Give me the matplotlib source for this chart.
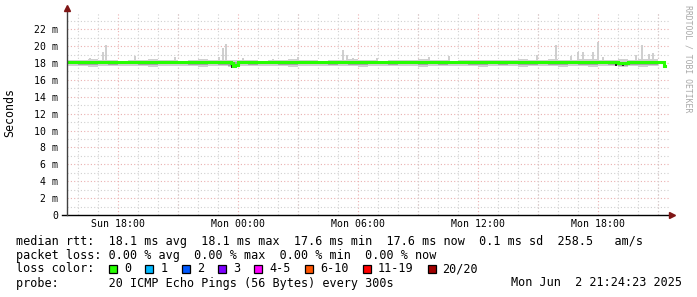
#!/usr/bin/env python3
# coding=utf-8
"""SmokePing style latency graph (30 hours, median rtt + smoke)."""

import matplotlib

matplotlib.use("Agg")
import matplotlib.pyplot as plt
from matplotlib.patches import Rectangle

plt.rcParams["font.family"] = ["DejaVu Sans Mono"]

# time axis: hours since Sun 00:00
median_t = [
    15.5, 16.0, 16.5, 17.0, 17.5, 18.0, 18.5, 19.0, 19.5, 20.0, 20.5, 21.0,
    21.5, 22.0, 22.5, 23.0, 23.5, 23.65, 23.75, 23.85,
    24.0, 24.5, 25.0, 25.5, 26.0, 26.5, 27.0, 27.5, 28.0, 28.5,
    29.0, 29.5, 30.0, 30.5, 31.0, 31.5, 32.0, 32.5, 33.0, 33.5,
    34.0, 34.5, 35.0, 35.5, 36.0, 36.5, 37.0, 37.5, 38.0, 38.5,
    39.0, 39.5, 40.0, 40.5, 41.0, 41.5, 42.0, 42.5,
    43.0, 43.5, 44.0, 44.5, 45.0, 45.2, 45.3, 45.35,
]
# median rtt in ms
median_ms = [
    18.10, 18.13, 18.10, 18.10, 18.13, 18.10, 18.13, 18.10, 18.10, 18.13, 18.10, 18.10,
    18.13, 18.10, 18.10, 18.13, 18.10, 18.05, 17.60, 17.75,
    18.10, 18.13, 18.10, 18.10, 18.13, 18.10, 18.10, 18.07, 18.10, 18.13,
    18.10, 18.10, 18.13, 18.10, 18.10, 18.07, 18.10, 18.10, 18.13, 18.10,
    18.10, 18.13, 18.10, 18.10, 18.07, 18.10, 18.10, 18.13, 18.10, 18.10,
    18.13, 18.10, 18.10, 18.07, 18.10, 18.13, 18.10, 18.10,
    18.02, 18.10, 18.13, 18.10, 18.13, 18.10, 17.60, 17.60,
]

# smoke (spread of the 20 pings), half-hour blocks
smoke_t = [
    15.5, 16.0, 16.5, 17.0, 17.5, 18.0, 18.5, 19.0, 19.5, 20.0, 20.5, 21.0,
    21.5, 22.0, 22.5, 23.0, 23.5, 24.0, 24.5, 25.0, 25.5, 26.0, 26.5, 27.0,
    27.5, 28.0, 28.5, 29.0, 29.5, 30.0, 30.5, 31.0, 31.5, 32.0, 32.5, 33.0,
    33.5, 34.0, 34.5, 35.0, 35.5, 36.0, 36.5, 37.0, 37.5, 38.0, 38.5, 39.0,
    39.5, 40.0, 40.5, 41.0, 41.5, 42.0, 42.5, 43.0, 43.5, 44.0, 44.5, 45.0,
]
smoke_lo = [
    17.6, 17.6, 17.5, 17.6, 17.6, 17.7, 17.6, 17.6, 17.5, 17.6, 17.6, 17.7,
    17.6, 17.5, 17.6, 17.6, 17.5, 17.6, 17.6, 17.7, 17.6, 17.6, 17.5, 17.6,
    17.6, 17.7, 17.6, 17.6, 17.6, 17.5, 17.6, 17.7, 17.6, 17.6, 17.6, 17.5,
    17.6, 17.6, 17.7, 17.6, 17.6, 17.5, 17.6, 17.6, 17.6, 17.5, 17.6, 17.6,
    17.6, 17.5, 17.6, 17.6, 17.5, 17.6, 17.6, 17.5, 17.6, 17.5, 17.6, 17.6,
]
smoke_core = [
    17.9, 17.8, 17.8, 17.9, 17.8, 17.9, 17.9, 17.8, 17.8, 17.9, 17.9, 17.9,
    17.8, 17.8, 17.9, 17.8, 17.7, 17.9, 17.8, 17.9, 17.9, 17.8, 17.8, 17.9,
    17.9, 17.9, 17.8, 17.9, 17.8, 17.8, 17.9, 17.9, 17.8, 17.9, 17.9, 17.8,
    17.9, 17.8, 17.9, 17.9, 17.8, 17.8, 17.9, 17.8, 17.9, 17.8, 17.8, 17.9,
    17.8, 17.8, 17.9, 17.8, 17.8, 17.9, 17.8, 17.7, 17.8, 17.8, 17.8, 17.8,
]
smoke_hi = [
    18.4, 18.4, 18.5, 18.4, 18.4, 18.3, 18.4, 18.4, 18.5, 18.4, 18.4, 18.3,
    18.4, 18.5, 18.4, 18.4, 18.4, 18.4, 18.4, 18.3, 18.4, 18.4, 18.5, 18.4,
    18.4, 18.3, 18.4, 18.4, 18.5, 18.4, 18.4, 18.3, 18.4, 18.4, 18.4, 18.5,
    18.4, 18.4, 18.3, 18.4, 18.4, 18.4, 18.4, 18.4, 18.4, 18.5, 18.4, 18.4,
    18.5, 18.4, 18.4, 18.5, 18.5, 18.4, 18.4, 18.5, 18.4, 18.5, 18.5, 18.4,
]

# isolated slow pings (time, max rtt ms)
spike_t = [
    16.6, 17.25, 17.4, 18.85, 20.85, 23.05, 23.25, 23.4, 24.25, 25.75,
    27.0, 29.25, 29.45, 29.75, 30.95, 33.55, 34.55, 38.95, 39.9, 40.65,
    41.0, 41.25, 41.75, 42.0, 42.25, 43.9, 44.2, 44.55, 44.75,
]
spike_ms = [
    18.6, 19.3, 20.1, 18.8, 18.7, 18.7, 19.8, 20.2, 18.6, 18.5,
    18.7, 19.5, 18.9, 18.6, 18.6, 18.7, 18.8, 18.9, 20.1, 18.8,
    19.3, 19.3, 19.3, 20.5, 18.7, 18.9, 20.1, 19.1, 19.2,
]

# dark smoke patches around the median line
dark_t = [23.7, 42.9, 43.05, 43.25, 43.4]
dark_lo = [17.4, 17.7, 17.8, 17.7, 17.8]
dark_hi = [18.0, 18.1, 18.1, 18.1, 18.1]

x_tick_pos = [18, 24, 30, 36, 42]
x_tick_labels = ["Sun 18:00", "Mon 00:00", "Mon 06:00", "Mon 12:00", "Mon 18:00"]
y_tick_pos = [0, 2, 4, 6, 8, 10, 12, 14, 16, 18, 20, 22]
y_tick_labels = ["0"] + [f"{v} m" for v in y_tick_pos[1:]]

loss_labels = ["0", "1", "2", "3", "4-5", "6-10", "11-19", "20/20"]
loss_colors = ["#26ff00", "#00b8ff", "#0059ff", "#7e00ff",
               "#ff00ff", "#ff5500", "#ff0000", "#a10000"]

legend_lines = [
    "median rtt:  18.1 ms avg  18.1 ms max  17.6 ms min  17.6 ms now  0.1 ms sd  258.5   am/s",
    "packet loss: 0.00 % avg  0.00 % max  0.00 % min  0.00 % now",
]
probe_text = "probe:       20 ICMP Echo Pings (56 Bytes) every 300s"
date_text = "Mon Jun  2 21:24:23 2025"

W, H = 697, 297
fig = plt.figure(figsize=(W / 100, H / 100), dpi=100)
fig.patch.set_facecolor("white")

ax_l, ax_r, ax_b, ax_t = 67, 669, 215, 12.4
ax = fig.add_axes([ax_l / W, 1 - ax_b / H, (ax_r - ax_l) / W, (ax_b - ax_t) / H])
ax.set_xlim(15.45, 45.55)
ax.set_ylim(0, 24)

# grid
ax.set_xticks(range(16, 46), minor=True)
ax.set_yticks(range(1, 24), minor=True)
ax.grid(True, which="minor", color="#d0d0d0", linestyle=(0, (1, 2)), linewidth=0.8)
for h in range(18, 46, 3):
    ax.axvline(h, color="#eab0b0", linestyle=(0, (1, 2)), linewidth=0.8, zorder=1)
for v in y_tick_pos[1:]:
    ax.axhline(v, color="#eab0b0", linestyle=(0, (1, 2)), linewidth=0.8, zorder=1)

# smoke
ax.fill_between(smoke_t, smoke_lo, smoke_hi, step="post", color="#d0d0d0", lw=0, zorder=2)
ax.bar(spike_t, [s - 18.1 for s in spike_ms], bottom=18.1, width=5 / 60,
       color="#cfcfcf", lw=0, zorder=2)
ax.fill_between(smoke_t, smoke_core, [18.1] * len(smoke_t), step="post",
                color="#a6a6a6", lw=0, zorder=3)
ax.bar(dark_t, [h - l for h, l in zip(dark_hi, dark_lo)], bottom=dark_lo,
       width=6 / 60, color="#202020", lw=0, zorder=3)

# median line
ax.plot(median_t, median_ms, color="#26ff00", linewidth=2.2,
        drawstyle="steps-post", zorder=4, solid_joinstyle="miter")

# axes
ax.set_xticks(x_tick_pos)
ax.set_xticklabels(x_tick_labels)
ax.set_yticks(y_tick_pos)
ax.set_yticklabels(y_tick_labels)
ax.tick_params(which="both", length=0)
ax.tick_params(axis="x", pad=3, labelsize=7.1)
ax.tick_params(axis="y", pad=6.5, labelsize=7.1)
for s in ax.spines.values():
    s.set_visible(False)

pw, ph = ax_r - ax_l, ax_b - ax_t
ax.plot([-5 / pw, 1 + 3 / pw], [0, 0], transform=ax.transAxes, color="black",
        lw=1.0, clip_on=False, zorder=5)
ax.plot([0, 0], [0, 1 + 3 / ph], transform=ax.transAxes, color="#404040",
        lw=1.0, clip_on=False, zorder=5)
ax.plot([1 + 3 / pw], [0], marker=">", markersize=4.5, color="#7f1515",
        transform=ax.transAxes, clip_on=False, zorder=6)
ax.plot([0], [1 + 4 / ph], marker="^", markersize=4.5, color="#7f1515",
        transform=ax.transAxes, clip_on=False, zorder=6)

fig.text(10 / W, 1 - 113 / H, "Seconds", rotation=90, ha="center", va="center",
         fontsize=8.4)
fig.text(688 / W, 1 - 5 / H, "RRDTOOL / TOBI OETIKER", rotation=270,
         ha="center", va="top", fontsize=5.9, color="#a8a8a8")

# legend block
cw = 7.12
fig.text(16 / W, 1 - 241 / H, legend_lines[0], fontsize=8.5, va="center")
fig.text(16 / W, 1 - 255 / H, legend_lines[1], fontsize=8.5, va="center")
fig.text(16 / W, 1 - 269 / H, "loss color:", fontsize=8.5, va="center")
bx = 16 + 13.05 * cw
for lab, col in zip(loss_labels, loss_colors):
    fig.add_artist(Rectangle((bx / W, 1 - 273 / H), 8 / W, 8 / H,
                             transform=fig.transFigure, facecolor=col,
                             edgecolor="black", lw=0.9))
    fig.text((bx + 15) / W, 1 - 269 / H, lab, fontsize=8.5, va="center")
    bx += 15 + (len(lab) + 2) * cw
fig.text(16 / W, 1 - 283 / H, probe_text, fontsize=8.5, va="center")
fig.text(682 / W, 1 - 283 / H, date_text, fontsize=8.5, va="center", ha="right")

fig.savefig("out.png", dpi=100)
